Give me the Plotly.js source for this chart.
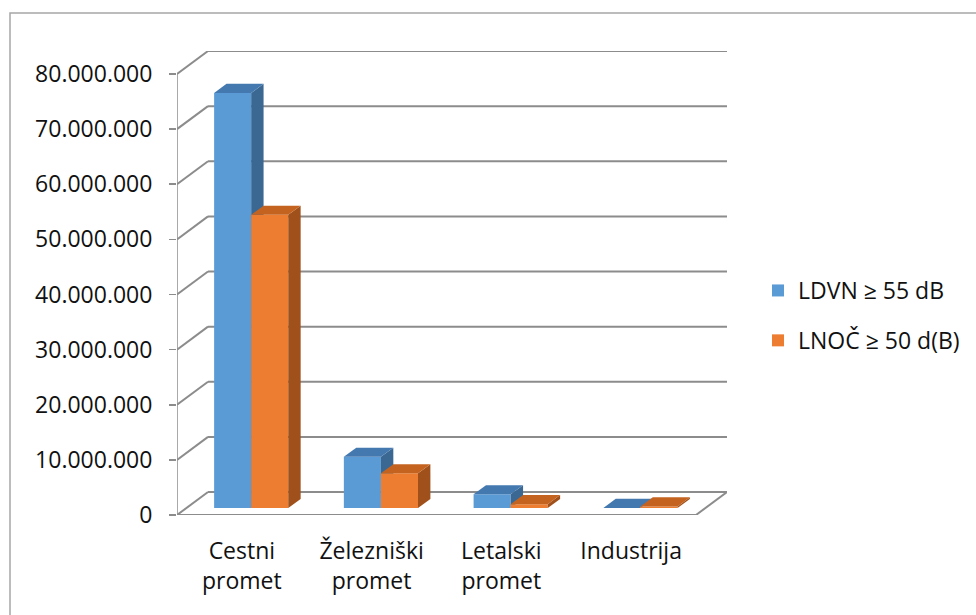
<!DOCTYPE html>
<html>
<head>
<meta charset="utf-8">
<script src="https://cdn.plot.ly/plotly-3.0.1.min.js"></script>
<style>
  html, body { margin: 0; padding: 0; background: #fff; }
  #chart { width: 976px; height: 615px; }
</style>
</head>
<body>
<div id="chart"></div>
<script>
// Number of people exposed to noise, by source
const categories = ['Cestni<br>promet', 'Železniški<br>promet', 'Letalski<br>promet', 'Industrija'];
const seriesNames = ['LDVN ≥ 55 dB', 'LNOČ ≥ 50 d(B)'];
const ldvn = [75300000, 9300000, 2500000, 30000];
const lnoc = [53200000, 6300000, 700000, 300000];
const yTicks = [0, 10000000, 20000000, 30000000, 40000000, 50000000, 60000000, 70000000, 80000000];

// Oblique projection of the 3D box: moving one unit into depth shifts
// DX category units to the right and DY value units upward.
const DX = 0.239;
const DY = 4170000;
const YMAX = 80000000;
const NCAT = categories.length;

// Excel-like clustered layout: gap width 150%, bars occupy depth 0.3..0.7
const BAR_W = 1 / (2 + 1.5);
const GAP = (1 - 2 * BAR_W) / 2;
const D0 = 0.3, D1 = 0.7;

const colors = [
  { front: '#5B9BD5', top: '#4479B0', side: '#3A6892' },
  { front: '#ED7D31', top: '#C4631F', side: '#A0501A' }
];

const FONT = 'Open Sans, Liberation Sans, sans-serif';
const FSIZE = 23;

function seriesTraces(values, s, xa, ya) {
  const traces = [];
  const c = colors[s];
  // side and top faces (drawn as filled polygons)
  values.forEach((v, i) => {
    const x0 = i + GAP + s * BAR_W;
    const x1 = x0 + BAR_W;
    traces.push({
      type: 'scatter', mode: 'lines', fill: 'toself', xaxis: xa, yaxis: ya,
      x: [x1 + D0 * DX, x1 + D1 * DX, x1 + D1 * DX, x1 + D0 * DX, x1 + D0 * DX],
      y: [D0 * DY, D1 * DY, v + D1 * DY, v + D0 * DY, D0 * DY],
      fillcolor: c.side, line: { width: 0, color: c.side },
      showlegend: false, hoverinfo: 'skip'
    });
    traces.push({
      type: 'scatter', mode: 'lines', fill: 'toself', xaxis: xa, yaxis: ya,
      x: [x0 + D0 * DX, x1 + D0 * DX, x1 + D1 * DX, x0 + D1 * DX, x0 + D0 * DX],
      y: [v + D0 * DY, v + D0 * DY, v + D1 * DY, v + D1 * DY, v + D0 * DY],
      fillcolor: c.top, line: { width: 0, color: c.top },
      showlegend: false, hoverinfo: 'skip'
    });
  });
  // front faces
  traces.push({
    type: 'bar', name: seriesNames[s], xaxis: xa, yaxis: ya,
    x: values.map((v, i) => i + GAP + s * BAR_W + BAR_W / 2 + D0 * DX),
    y: values,
    base: values.map(() => D0 * DY),
    width: BAR_W,
    marker: { color: c.front, line: { width: 0 } },
    legendgroup: 'g' + s,
    hovertemplate: '%{y:,d}<extra>' + seriesNames[s] + '</extra>'
  });
  return traces;
}

const data = [].concat(
  seriesTraces(ldvn, 0, 'x', 'y'),
  seriesTraces(lnoc, 1, 'x2', 'y2')
);

// Walls, floor and grid of the 3D frame
const GRID = '#8C8C8C';
const shapes = [];
yTicks.forEach(v => {
  shapes.push({ type: 'line', layer: 'below', xref: 'x', yref: 'y',
    x0: DX, x1: NCAT + DX, y0: v + DY, y1: v + DY, line: { color: GRID, width: 2 } });
  shapes.push({ type: 'line', layer: 'below', xref: 'x', yref: 'y',
    x0: 0, x1: DX, y0: v, y1: v + DY, line: { color: GRID, width: 2 } });
});
// front value axis
shapes.push({ type: 'line', layer: 'below', xref: 'x', yref: 'y',
  x0: 0, x1: 0, y0: 0, y1: YMAX, line: { color: GRID, width: 1.5 } });
// floor front and right edges
shapes.push({ type: 'line', layer: 'below', xref: 'x', yref: 'y',
  x0: 0, x1: NCAT, y0: 0, y1: 0, line: { color: GRID, width: 2 } });
shapes.push({ type: 'line', layer: 'below', xref: 'x', yref: 'y',
  x0: NCAT, x1: NCAT + DX, y0: 0, y1: DY, line: { color: GRID, width: 2 } });
// category boundary ticks
for (let i = 0; i <= NCAT; i++) {
  shapes.push({ type: 'line', layer: 'below', xref: 'x', yref: 'y',
    ysizemode: 'pixel', yanchor: 0, x0: i, x1: i, y0: 0, y1: -8,
    line: { color: GRID, width: 1.5 } });
}

// chart area border
const L = 177, R = 727, T = 51, B = 515;
const px = x => (x - L) / (R - L);
const py = y => (B - y) / (B - T);
shapes.push({ type: 'rect', layer: 'below', xref: 'paper', yref: 'paper',
  x0: px(10), x1: px(1010), y0: py(650), y1: py(13),
  line: { color: '#A6A6A6', width: 1.5 }, fillcolor: 'rgba(0,0,0,0)' });

const layout = {
  width: 976, height: 615,
  margin: { l: L, r: 976 - R, t: T, b: 615 - B, pad: 0 },
  paper_bgcolor: '#ffffff', plot_bgcolor: 'rgba(0,0,0,0)',
  separators: ',.',
  font: { family: FONT, size: FSIZE, color: '#111111' },
  showlegend: true,
  barmode: 'overlay',
  xaxis: {
    range: [0, NCAT + DX], fixedrange: true,
    tickmode: 'array',
    tickvals: categories.map((c, i) => i + 0.5),
    ticktext: categories,
    ticks: '', showgrid: false, zeroline: false, showline: false,
    ticklabelstandoff: 20,
    tickfont: { family: FONT, size: FSIZE, color: '#111111' }
  },
  yaxis: {
    range: [0, YMAX + DY], fixedrange: true,
    tickmode: 'array', tickvals: yTicks, tickformat: ',d',
    ticks: 'outside', ticklen: 7, tickwidth: 1.5, tickcolor: GRID,
    showgrid: false, zeroline: false, showline: false,
    ticklabelstandoff: 12,
    tickfont: { family: FONT, size: FSIZE, color: '#111111' }
  },
  xaxis2: { overlaying: 'x', range: [0, NCAT + DX], visible: false, fixedrange: true },
  yaxis2: { overlaying: 'y', range: [0, YMAX + DY], visible: false, fixedrange: true },
  legend: {
    xref: 'container', yref: 'container',
    x: 758 / 976, xanchor: 'left',
    y: 1 - 269 / 615, yanchor: 'top',
    traceorder: 'grouped', tracegroupgap: 17,
    font: { family: FONT, size: FSIZE, color: '#111111' },
    bgcolor: 'rgba(0,0,0,0)', borderwidth: 0
  },
  shapes: shapes
};

Plotly.newPlot('chart', data, layout, { displayModeBar: false, staticPlot: true });
</script>
</body>
</html>
